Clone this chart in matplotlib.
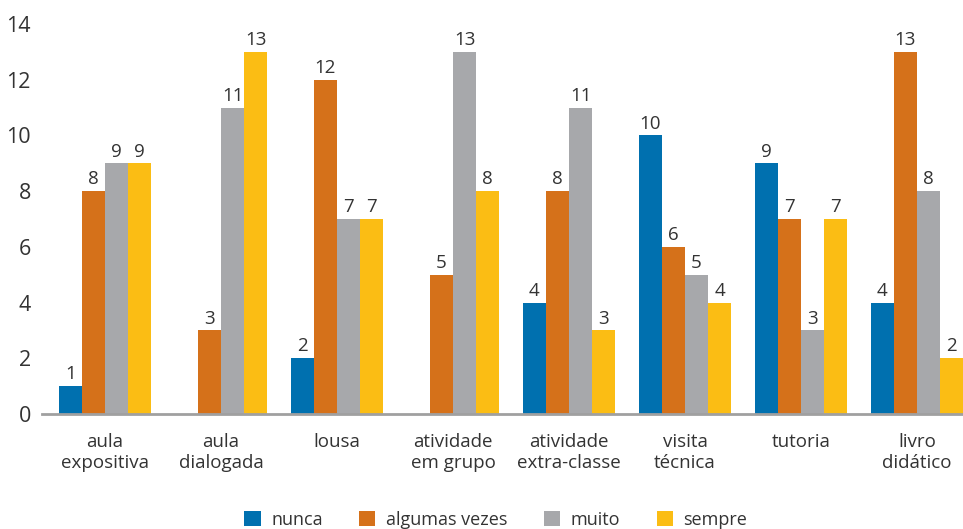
import matplotlib.pyplot as plt
import numpy as np

plt.rcParams['font.family'] = ['Open Sans', 'DejaVu Sans']

categories = ['aula\nexpositiva', 'aula\ndialogada', 'lousa', 'atividade\nem grupo',
              'atividade\nextra-classe', 'visita\ntécnica', 'tutoria', 'livro\ndidático']
series = ['nunca', 'algumas vezes', 'muito', 'sempre']
nunca = [1, 0, 2, 0, 4, 10, 9, 4]
algumas_vezes = [8, 3, 12, 5, 8, 6, 7, 13]
muito = [9, 11, 7, 13, 11, 5, 3, 8]
sempre = [9, 13, 7, 8, 3, 4, 7, 2]
colors = ['#0070AF', '#D5711A', '#A7A8AB', '#FBBD14']

txt = '#333333'
fig = plt.figure(figsize=(9.63, 5.29), dpi=100)
ax = fig.add_axes([0.0436, 0.2174, 0.9564, 0.7372])

x = np.arange(len(categories))
w = 0.2
for i, (name, vals) in enumerate(zip(series, [nunca, algumas_vezes, muito, sempre])):
    pos = x + (i - 1.5) * w
    bars = ax.bar(pos, vals, w, color=colors[i], label=name, linewidth=0)
    for b, v in zip(bars, vals):
        if v > 0:
            ax.text(b.get_x() + b.get_width() / 2, v + 0.1, str(v), ha='center',
                    va='bottom', fontsize=13.5, color=txt)

ax.set_ylim(0, 14)
ax.set_xlim(-0.543, 7.397)
ax.set_yticks(range(0, 15, 2))
ax.set_xticks(x)
ax.set_xticklabels(categories, fontsize=13.5, color=txt, linespacing=1.15)
ax.tick_params(axis='y', length=0, labelsize=15.5, labelcolor=txt, pad=8)
ax.tick_params(axis='x', length=0, pad=14)
for s in ['top', 'right', 'left']:
    ax.spines[s].set_visible(False)
ax.spines['bottom'].set_color('#A0A0A0')
ax.spines['bottom'].set_linewidth(2)

fig.legend(loc='lower center', bbox_to_anchor=(0.515, -0.03), ncol=4, frameon=False,
           fontsize=13, handlelength=0.9, handleheight=0.9, columnspacing=2.0,
           handletextpad=0.6, labelcolor=txt)

fig.savefig('out.png', dpi=100)
